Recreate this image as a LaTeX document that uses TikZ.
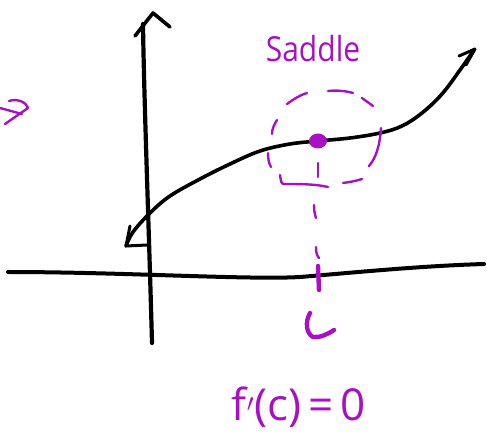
\documentclass[tikz,border=0pt]{standalone}
\usepackage{fontspec}
\setmainfont{Open Sans}
\usetikzlibrary{shapes.geometric}
\definecolor{pen}{RGB}{168,16,196}
\begin{document}
\begin{tikzpicture}[x=1pt,y=-1pt,
  ink/.style={line cap=round,line join=round,line width=4.2pt,black},
  pink/.style={line cap=round,line join=round,line width=2.4pt,pen},
  thickpink/.style={line cap=round,line join=round,line width=4.4pt,pen},
  label/.style={text=pen,inner sep=0pt}]
\useasboundingbox (0,0) rectangle (487,435);
% axes
\coordinate (ybot) at (152,343);
\coordinate (ytop) at (143,24);
\draw[ink] (ybot) .. controls (149,230) and (144,100) .. (ytop);
\draw[ink,line width=3.6pt] (135,36) -- (153,13) -- (170,27);
\coordinate (xl) at (8,272);
\coordinate (xr) at (484,264);
\draw[ink,line width=4pt] (xl) .. controls (120,272) and (250,280) .. (300,277) .. controls (360,272) and (420,266) .. (xr);
% curve
\draw[ink,line width=3.6pt] plot[smooth,tension=0.6] coordinates {(126,246) (133,232) (150,213) (170,196) (200,179) (230,164) (260,151) (290,144) (318,141) (350,138) (380,133) (402,126) (422,113) (442,94) (460,70) (474,50)};
\draw[ink,line width=3pt] (130,226) -- (126,246) -- (147,245);
\draw[ink,line width=3pt] (459,56) -- (475,49) -- (466,65);
% saddle point
\node[label,font=\fontsize{30}{30}\selectfont,yscale=1.15] (saddle) at (313,49) {Saddle};
\node[draw=none,fill=pen,ellipse,minimum width=18pt,minimum height=15pt,inner sep=0pt] (dot) at (318,141) {};
% dashed circle pieces
\draw[pink] (287,104) .. controls (294,99) and (300,95) .. (307,93);
\draw[pink] (328,91) .. controls (337,90) and (346,91) .. (353,93);
\draw[pink] (362,98) -- (373,106);
\draw[pink] (277,120) .. controls (274,125) and (272,129) .. (272,134);
\draw[pink] (381,128) .. controls (380,145) and (376,158) .. (369,166);
\draw[pink] (268,153) .. controls (268,159) and (269,164) .. (271,167);
\draw[pink] (280,175) .. controls (281,181) and (281,184) .. (284,184) .. controls (300,184) and (315,184) .. (328,187);
\draw[pink] (343,183) .. controls (350,182) and (356,181) .. (362,179);
% vertical dashes
\draw[pink] (318,163) -- (318,177);
\draw[pink] (314,205) .. controls (314,211) and (315,215) .. (316,218);
\draw[pink] (316,247) .. controls (316,253) and (317,256) .. (319,258);
\draw[thickpink] (318,266) -- (319,290);
% c label
\draw[thickpink] (310,313) .. controls (305,322) and (306,333) .. (313,337) .. controls (320,338) and (328,334) .. (334,330);
% implies arrow at left edge
\draw[pink] (0,108) -- (22,114);
\draw[pink] (9,101) .. controls (18,98) and (27,103) .. (28,108) -- (5,124);
% equation
\node[label,font=\fontsize{44}{44}\selectfont] (eq) at (299,407) {f$'$(c)\,=\,0};
\end{tikzpicture}
\end{document}
